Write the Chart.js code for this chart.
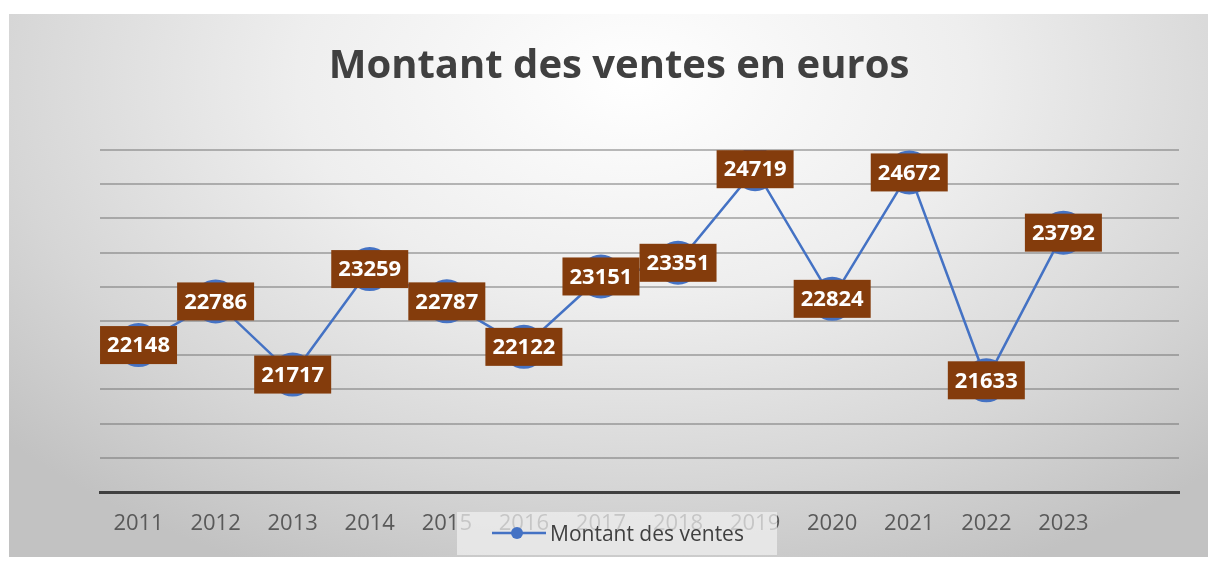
<!DOCTYPE html>
<html>
<head>
<meta charset="utf-8">
<script src="https://cdn.jsdelivr.net/npm/chart.js@4/dist/chart.umd.min.js"></script>
<style>
  html, body { margin: 0; padding: 0; background: #ffffff; width: 1208px; height: 562px; overflow: hidden; }
  #panel {
    position: absolute; left: 9px; top: 14px; width: 1199px; height: 543px;
    background: radial-gradient(ellipse 70% 100% at 52% 12%, #ffffff 0%, #eeeeee 40%, #d6d6d6 75%, #c2c2c2 100%);
  }
  #wrap { position: absolute; left: 59px; top: 0; width: 1149px; height: 562px; }
</style>
</head>
<body>
<div id="panel"></div>
<div id="wrap"><canvas id="chart" width="1149" height="562"></canvas></div>
<script>
// data
const years  = ['2011','2012','2013','2014','2015','2016','2017','2018','2019','2020','2021','2022','2023',''];
const ventes = [22148, 22786, 21717, 23259, 22787, 22122, 23151, 23351, 24719, 22824, 24672, 21633, 23792, null];
const seriesName = 'Montant des ventes';
const chartTitle = 'Montant des ventes en euros';

const BLUE  = '#4472C4';
const BROWN = '#843C0C';
const FONT  = 'Open Sans';

// ── value boxes on each point ──────────────────────
const valueBoxes = {
  id: 'valueBoxes',
  afterDatasetsDraw(chart) {
    const ctx = chart.ctx;
    const meta = chart.getDatasetMeta(0);
    const vals = chart.data.datasets[0].data;
    ctx.save();
    ctx.font = `bold 22px "${FONT}"`;
    ctx.textAlign = 'center';
    ctx.textBaseline = 'middle';
    meta.data.forEach((pt, i) => {
      if (vals[i] == null) return;
      const w = 77, h = 38;
      ctx.fillStyle = BROWN;
      ctx.fillRect(pt.x - w / 2, pt.y - h / 2, w, h);
      ctx.fillStyle = '#ffffff';
      ctx.fillText(String(vals[i]), pt.x, pt.y + 1);
    });
    ctx.restore();
  }
};

// ── legend box drawn over the axis labels ─────────
const overLegend = {
  id: 'overLegend',
  afterDraw(chart) {
    const ctx = chart.ctx;
    ctx.save();
    ctx.fillStyle = 'rgba(240,240,240,0.72)';
    ctx.fillRect(398, 512, 320, 43);
    ctx.strokeStyle = BLUE;
    ctx.lineWidth = 2.5;
    ctx.beginPath();
    ctx.moveTo(433, 533); ctx.lineTo(487, 533);
    ctx.stroke();
    ctx.fillStyle = BLUE;
    ctx.beginPath();
    ctx.arc(458, 533, 6, 0, Math.PI * 2);
    ctx.fill();
    ctx.fillStyle = '#404040';
    ctx.font = `21px "${FONT}"`;
    ctx.textAlign = 'left';
    ctx.textBaseline = 'middle';
    ctx.fillText(seriesName, 491, 535);
    ctx.restore();
  }
};

new Chart(document.getElementById('chart'), {
  type: 'line',
  data: {
    labels: years,
    datasets: [{
      label: seriesName,
      data: ventes,
      borderColor: BLUE,
      borderWidth: 2.5,
      pointRadius: 22,
      pointBackgroundColor: BLUE,
      pointBorderColor: BLUE,
      pointBorderWidth: 0,
      tension: 0,
      spanGaps: false
    }]
  },
  options: {
    responsive: false,
    animation: false,
    events: [],
    layout: { padding: { left: 0, right: 29, top: 0, bottom: 0 } },
    plugins: {
      legend: { display: false },
      tooltip: { enabled: false },
      title: {
        display: true,
        text: chartTitle,
        color: '#404040',
        font: { family: FONT, size: 40, weight: 'bold' },
        padding: { top: 43, bottom: 59 }
      }
    },
    scales: {
      x: {
        offset: true,
        grid: { display: false },
        border: { display: true, color: '#404040', width: 3 },
        ticks: { color: '#595959', font: { family: FONT, size: 22 }, padding: 11, maxRotation: 0, autoSkip: false },
        afterFit: s => { s.height = 70; }
      },
      y: {
        min: 20000,
        max: 25000,
        ticks: { display: false, stepSize: 500 },
        grid: { color: 'rgba(110,110,110,0.48)', lineWidth: 2, drawTicks: false },
        border: { display: false },
        afterFit: s => { s.width = 41; }
      }
    }
  },
  plugins: [valueBoxes, overLegend]
});
</script>
</body>
</html>
